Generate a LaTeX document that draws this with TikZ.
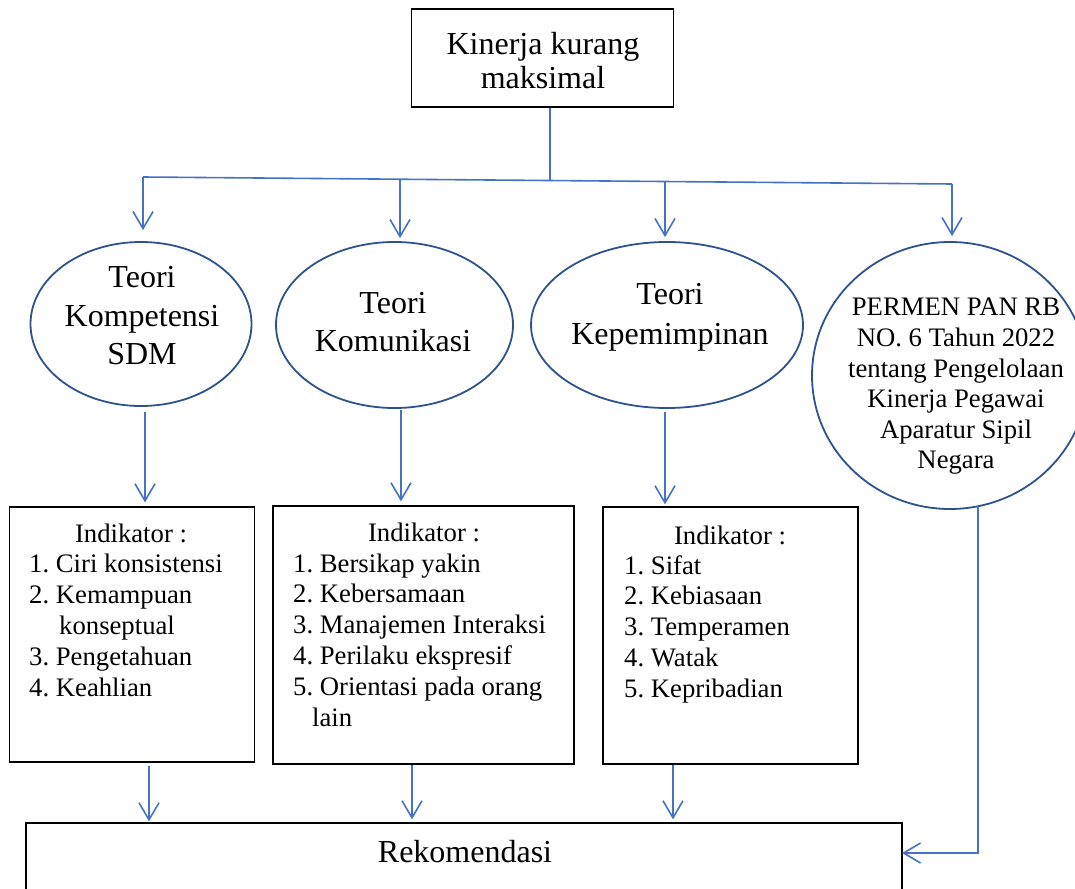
\documentclass[tikz,border=0pt]{standalone}
\usepackage{fontspec}
\setmainfont{Liberation Serif}
\usetikzlibrary{arrows.meta,shapes.geometric}
\definecolor{conn}{HTML}{4472C4}
\definecolor{ell}{HTML}{2F528F}
\begin{document}
\frenchspacing
\begin{tikzpicture}[x=1pt,y=-1pt,
 box/.style={draw=black,line width=1.3pt,rectangle,inner sep=0pt},
 ellip/.style={draw=ell,line width=1.8pt,ellipse,inner sep=0pt},
 arr/.style={draw=conn,line width=1.6pt,-{Straight Barb[length=17pt,width=20pt]}},
 ln/.style={draw=conn,line width=1.6pt},
 bigt/.style={font=\fontsize{32}{38.5}\selectfont,align=center,inner sep=0pt},
 smt/.style={font=\fontsize{26.7}{30.6}\selectfont,inner sep=0pt},
]
\clip (0,0) rectangle (1075,888);
% top box
\node[box,minimum width=262pt,minimum height=98pt] (T) at (542.5,58) {};
\node[bigt,font=\fontsize{32}{34}\selectfont] (Tt) at (543,61) {Kinerja kurang\\maksimal};
% ellipses
\node[ellip,minimum width=221pt,minimum height=164pt] (E1) at (141,324) {};
\node[bigt] (E1t) at (142,316) {Teori\\Kompetensi\\SDM};
\node[ellip,minimum width=237pt,minimum height=166pt] (E2) at (394.5,325) {};
\node[bigt] (E2t) at (393,322) {Teori\\Komunikasi};
\node[ellip,minimum width=272pt,minimum height=166pt] (E3) at (667,325) {};
\node[bigt,font=\fontsize{32}{40}\selectfont] (E3t) at (670,317) {Teori\\Kepemimpinan};
\node[ellip,minimum width=276pt,minimum height=267pt] (E4) at (950,375.5) {};
\node[smt,align=center] (E4t) at (956,386.5) {PERMEN PAN RB\\NO. 6 Tahun 2022\\tentang Pengelolaan\\Kinerja Pegawai\\Aparatur Sipil\\Negara};
% indicator boxes
\node[box,minimum width=245pt,minimum height=255pt] (B1) at (132,634.5) {};
\node[box,minimum width=301pt,minimum height=258pt] (B2) at (423.5,635) {};
\node[box,minimum width=255pt,minimum height=257pt] (B3) at (730.5,635.5) {};
\node[box,minimum width=876pt,minimum height=77pt] (R) at (464,861.5) {};
\node[bigt] (Rt) at (465,852) {Rekomendasi};
% box 1 text
\node[smt,anchor=base] (B1h) at (131,542) {Indikator :};
\node[smt,anchor=base west] (B1a) at (29,572) {1. Ciri konsistensi};
\node[smt,anchor=base west] (B1b) at (29,603) {2. Kemampuan};
\node[smt,anchor=base west] (B1c) at (59,634) {konseptual};
\node[smt,anchor=base west] (B1d) at (29,665) {3. Pengetahuan};
\node[smt,anchor=base west] (B1e) at (29,696) {4. Keahlian};
% box 2 text
\node[smt,anchor=base] (B2h) at (424,541) {Indikator :};
\node[smt,anchor=base west] (B2a) at (293,572) {1. Bersikap yakin};
\node[smt,anchor=base west] (B2b) at (293,602.8) {2. Kebersamaan};
\node[smt,anchor=base west] (B2c) at (293,633.6) {3. Manajemen Interaksi};
\node[smt,anchor=base west] (B2d) at (293,664.4) {4. Perilaku ekspresif};
\node[smt,anchor=base west] (B2e) at (293,695.2) {5. Orientasi pada orang};
\node[smt,anchor=base west] (B2f) at (312,726) {lain};
% box 3 text
\node[smt,anchor=base] (B3h) at (730,544) {Indikator :};
\node[smt,anchor=base west] (B3a) at (624,574) {1. Sifat};
\node[smt,anchor=base west] (B3b) at (624,604.8) {2. Kebiasaan};
\node[smt,anchor=base west] (B3c) at (624,635.6) {3. Temperamen};
\node[smt,anchor=base west] (B3d) at (624,666.4) {4. Watak};
\node[smt,anchor=base west] (B3e) at (624,697.2) {5. Kepribadian};
% bus connectors
\coordinate (bL) at (143,177);
\coordinate (bR) at (952,184);
\coordinate (bJ) at (550,179.5);
\coordinate (b2) at (400,179);
\coordinate (b3) at (665,181.5);
\draw[ln] (bL) -- (bR);
\draw[ln] (T.south -| bJ) -- (bJ);
\draw[arr,shorten >=11pt] (bL) -- (bL |- E1.north);
\draw[arr,shorten >=3pt] (b2) -- (b2 |- E2.north);
\draw[arr,shorten >=4pt] (b3) -- (b3 |- E3.north);
\draw[arr,shorten >=5pt] (bR) -- (bR |- E4.north);
% ellipse -> boxes
\coordinate (j1) at (145,412);
\coordinate (j2) at (401,410);
\coordinate (j3) at (665,412);
\draw[arr,shorten >=4pt] (j1) -- (j1 |- B1.north);
\draw[arr,shorten >=4pt] (j2) -- (j2 |- B2.north);
\draw[arr,shorten >=2pt] (j3) -- (j3 |- B3.north);
% boxes -> Rekomendasi
\coordinate (k1) at (149,766);
\coordinate (k2) at (412,765);
\coordinate (k3) at (673,765);
\draw[arr,shorten >=1pt] (k1) -- (k1 |- R.north);
\draw[arr,shorten >=3pt] (k2) -- (k2 |- R.north);
\draw[arr,shorten >=3pt] (k3) -- (k3 |- R.north);
% permen -> Rekomendasi
\coordinate (m1) at (978,506);
\coordinate (m2) at (902,853);
\draw[arr] (m1) |- (m2);
\end{tikzpicture}
\end{document}
